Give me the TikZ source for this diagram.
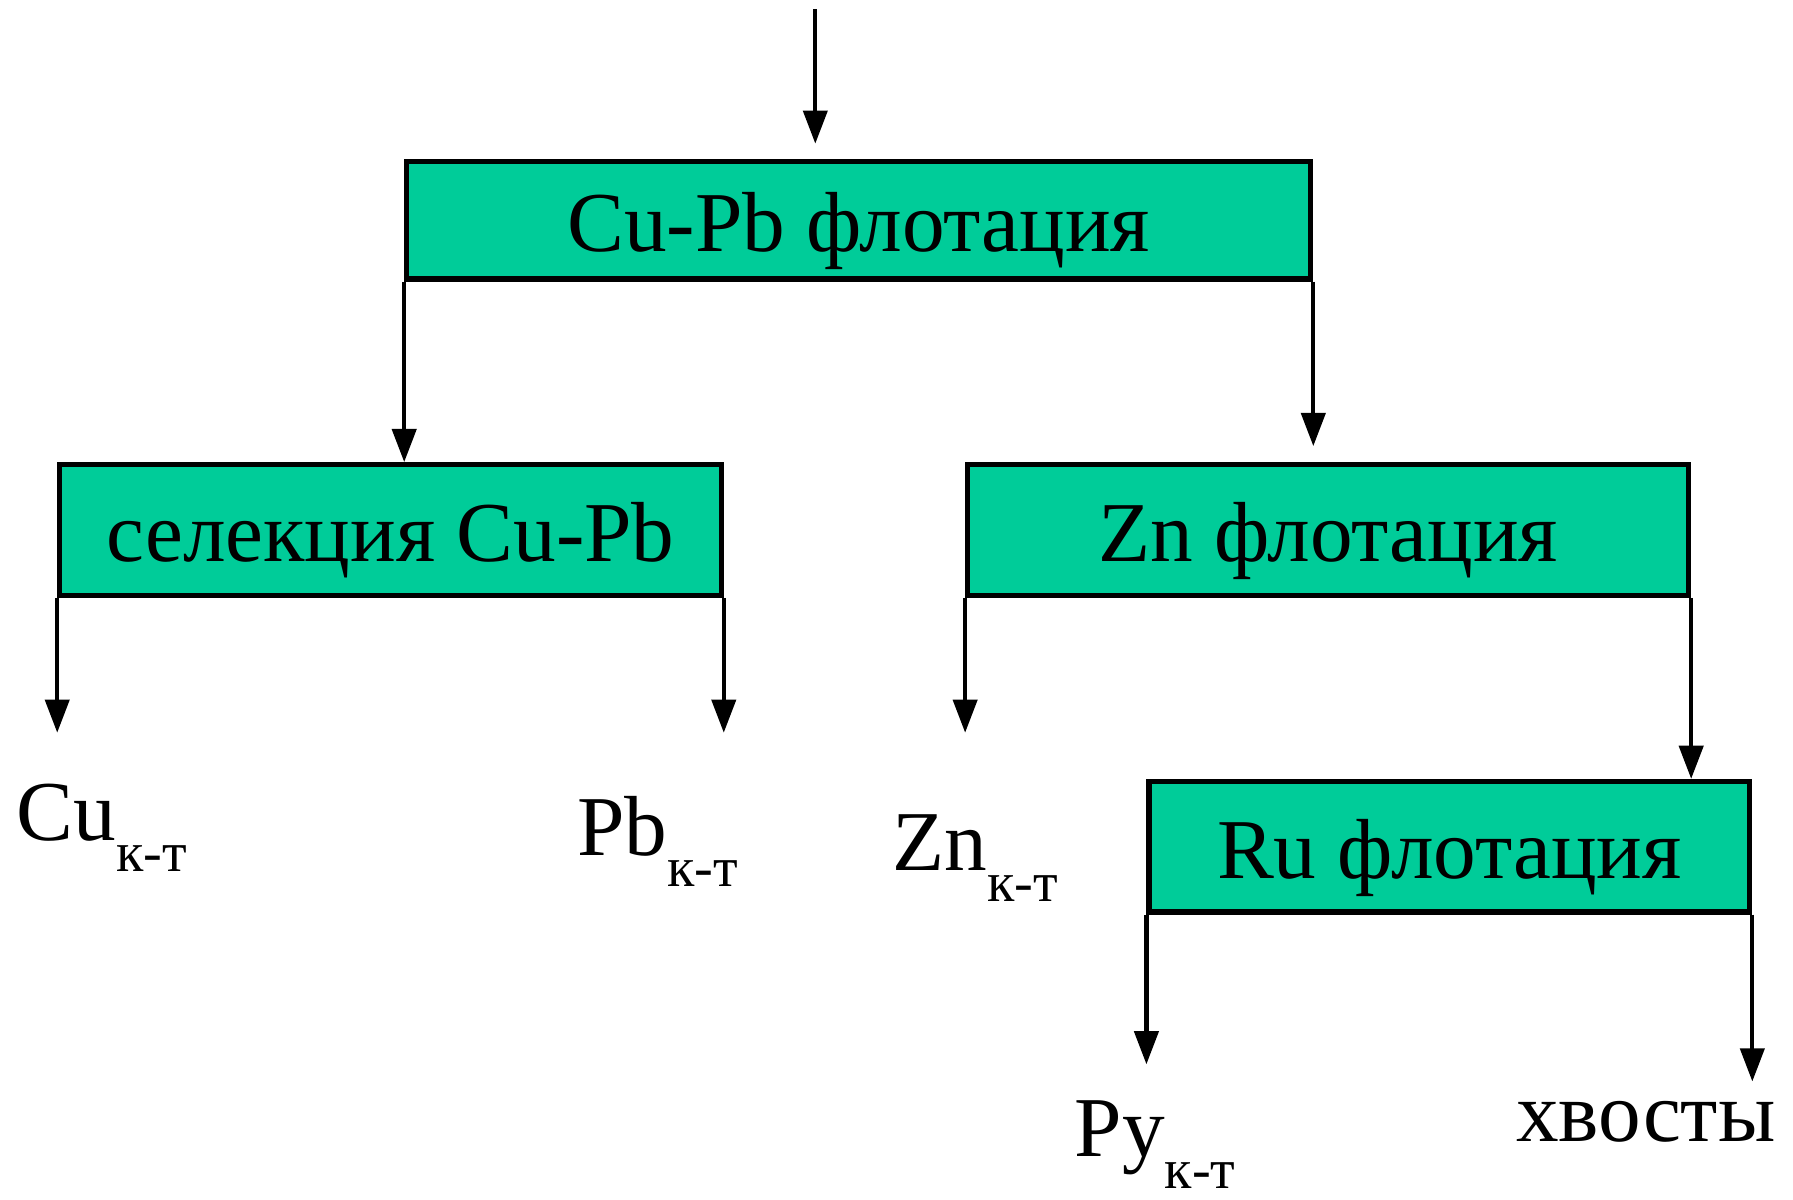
\documentclass[tikz,border=0pt]{standalone}
\usepackage{fontspec}
\setmainfont{Liberation Serif}
\usetikzlibrary{arrows.meta}
\definecolor{flotgreen}{RGB}{0,204,153}
% concentrate label with lowered index
\newcommand{\kt}[1]{#1\raisebox{-0.275cm}{\fontsize{14}{14}\selectfont к-т}}

\begin{document}
\begin{tikzpicture}[line cap=butt,line join=miter,>={Triangle[length=0.29cm,width=0.21cm]},x=0.01cm,y=0.01cm,line width=1.05pt,
  box/.style={draw,fill=flotgreen,line width=1.3pt,inner sep=0pt,text height=0.55cm,text depth=0pt},
  prod/.style={anchor=base west,inner sep=0pt},
  font=\fontsize{21.2}{25}\selectfont]
\useasboundingbox (0,0) rectangle (1568,1049);
% stages
\node[box,minimum width=7.9cm,minimum height=1.03cm] (cupb) at (751,856.5) {Cu-Pb флотация};
\node[box,minimum width=5.78cm,minimum height=1.14cm] (sel) at (341.5,585.5) {селекция Cu-Pb};
\node[box,minimum width=6.3cm,minimum height=1.14cm] (zn) at (1161.5,585.5) {Zn флотация};
\node[box,minimum width=5.25cm,minimum height=1.14cm] (ru) at (1267.5,308.5) {Ru флотация};
% products
\node[prod] (cu) at (13,314) {\kt{Cu}};
\node[prod] (pb) at (503,301) {\kt{Pb}};
\node[prod] (zncon) at (779,288) {\kt{Zn}};
\node[prod] (rucon) at (938,37.5) {\kt{Ру}};
\node[prod] (tails) at (1324,51) {хвосты};
% arrow ends
\coordinate (feed) at (713,1041);
\path (sel.south west) ++(0,-118) coordinate (cuend);
\path (sel.south east) ++(0,-118) coordinate (pbend);
\path (zn.south west) ++(0,-118) coordinate (znend);
\path (ru.south west) ++(0,-131) coordinate (pyend);
\path (ru.south east) ++(0,-146) coordinate (tailend);
% flows
\draw[->,shorten >=0.13cm] (feed) -- (feed |- cupb.north);
\draw[->] (cupb.south west) -- (cupb.south west |- sel.north);
\draw[->,shorten >=0.14cm] (cupb.south east) -- (cupb.south east |- zn.north);
\draw[->] (sel.south west) -- (cuend);
\draw[->] (sel.south east) -- (pbend);
\draw[->] (zn.south west) -- (znend);
\draw[->] (zn.south east) -- (zn.south east |- ru.north);
\draw[->] (ru.south west) -- (pyend);
\draw[->] (ru.south east) -- (tailend);
\end{tikzpicture}
\end{document}
